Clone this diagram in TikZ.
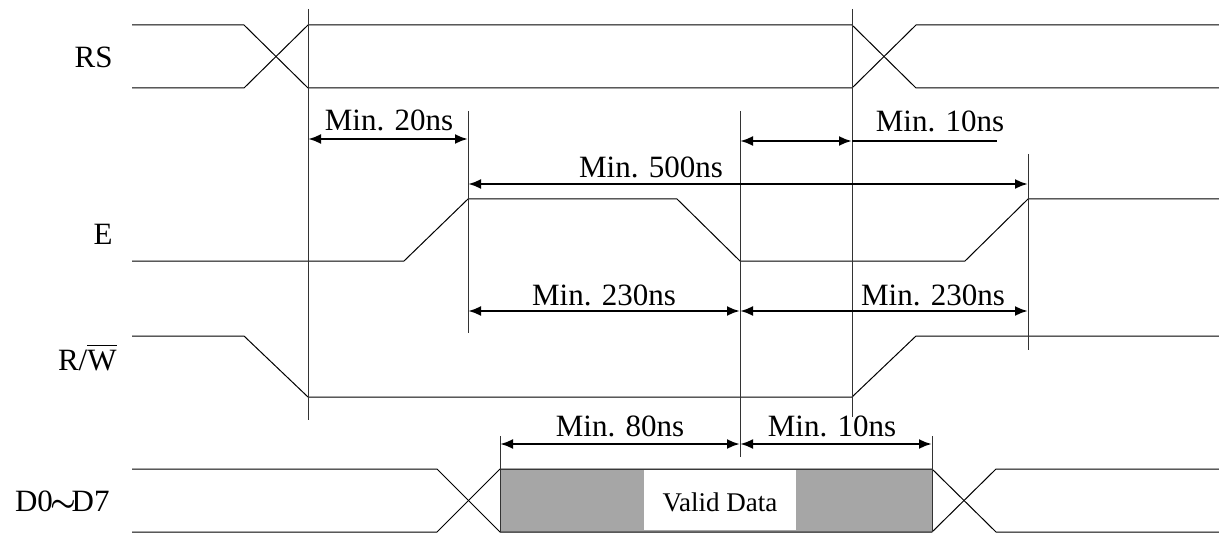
\documentclass[tikz,border=0pt]{standalone}
\usepackage{amsmath}
\usepackage{fontspec}
\setmainfont{Liberation Serif}
\usetikzlibrary{arrows.meta}

\tikzset{
  sig/.style={line width=0.5pt},
  guide/.style={line width=0.5pt, black!80},
  dim/.style={line width=1.25pt, {Latex[length=6.5pt,width=5pt]}-{Latex[length=6.5pt,width=5pt]}},
  lbl/.style={font=\fontsize{15.5}{18}\selectfont, inner sep=0pt, anchor=base},
  signame/.style={font=\fontsize{15.5}{18}\selectfont, inner sep=0pt, anchor=base east},
}

\begin{document}
\begin{tikzpicture}[x=0.5pt, y=-0.5pt]
\useasboundingbox (0,0) rectangle (1219,534);

% signal names
\node[signame] (rs) at (113,68) {RS};
\node[signame] (en) at (113,244) {E};
\node[signame] (rw) at (117,370) {R/$\overline{\mbox{W}}$};
\node[signame] (db) at (110,511) {D0\kern-1pt$\boldsymbol{\sim}$\kern-2.5ptD7};

% valid data window
\fill[black!35] (500,469) rectangle (932,532);
\fill[white] (644,470) rectangle (796,530);
\node[lbl, font=\fontsize{13.5}{15}\selectfont] (vd) at (720,511) {Valid Data};

% waveforms
\draw[sig] (132,25) -- (244,25) -- (308,88) -- (852,88) -- (916,25) -- (1219,25);
\draw[sig] (132,88) -- (244,88) -- (308,25) -- (852,25) -- (916,88) -- (1219,88);
\draw[sig] (132,261) -- (404,261) -- (468,199) -- (677,199) -- (740,261) -- (965,261) -- (1028,199) -- (1219,199);
\draw[sig] (132,336) -- (244,336) -- (308,397) -- (852,397) -- (916,336) -- (1219,336);
\draw[sig] (132,469) -- (437,469) -- (500,532) -- (932,532) -- (996,469) -- (1219,469);
\draw[sig] (132,532) -- (437,532) -- (500,469) -- (932,469) -- (996,532) -- (1219,532);

% guide lines
\draw[guide] (308,9) -- (308,420);
\draw[guide] (468,111) -- (468,333);
\draw[guide] (740,111) -- (740,457);
\draw[guide] (852,9) -- (852,417);
\draw[guide] (1028,154) -- (1028,350);
\draw[guide] (500,436) -- (500,532);
\draw[guide] (932,436) -- (932,532);

% timing
\coordinate (s20a) at (308,139);
\coordinate (s20b) at (468,139);
\draw[dim] (s20a) -- (s20b);
\node[lbl] (l20) at (389,131) {Min. 20ns};

\coordinate (h10a) at (740,141);
\coordinate (h10b) at (852,141);
\coordinate (h10c) at (997,141);
\draw[dim] (h10a) -- (h10b);
\draw[line width=1.25pt] (h10b) -- (h10c);
\node[lbl] (l10) at (940,132) {Min. 10ns};

\coordinate (c500a) at (468,184);
\coordinate (c500b) at (1028,184);
\draw[dim] (c500a) -- (c500b);
\node[lbl] (l500) at (651,177) {Min. 500ns};

\coordinate (p1a) at (468,311);
\coordinate (p1b) at (740,311);
\coordinate (p2b) at (1028,311);
\draw[dim] (p1a) -- (p1b);
\draw[dim] (p1b) -- (p2b);
\node[lbl] (l230a) at (604,305) {Min. 230ns};
\node[lbl] (l230b) at (933,305) {Min. 230ns};

\coordinate (d80a) at (500,444);
\coordinate (d80b) at (740,444);
\coordinate (d10b) at (932,444);
\draw[dim] (d80a) -- (d80b);
\draw[dim] (d80b) -- (d10b);
\node[lbl] (l80) at (620,436) {Min. 80ns};
\node[lbl] (l10d) at (832,436) {Min. 10ns};
\end{tikzpicture}
\end{document}
